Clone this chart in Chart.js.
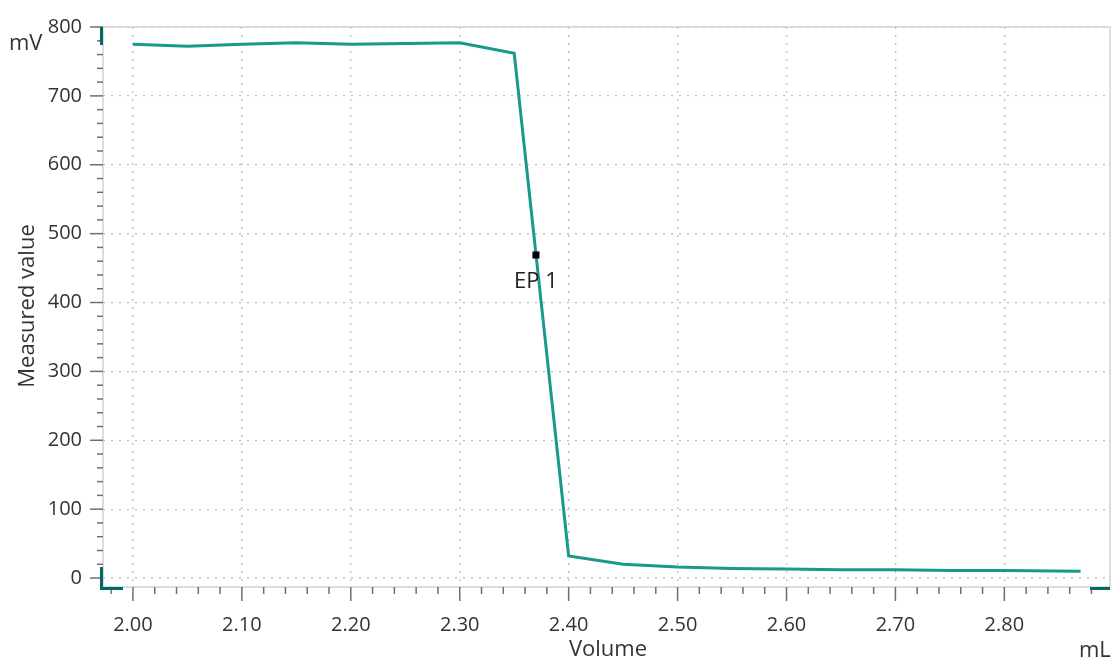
<!DOCTYPE html>
<html>
<head>
<meta charset="utf-8">
<script src="https://cdn.jsdelivr.net/npm/chart.js@4/dist/chart.umd.min.js"></script>
<style>
  html, body { margin: 0; padding: 0; background: #fff; }
  #wrap { width: 1115px; height: 661px; }
</style>
</head>
<body>
<div id="wrap"><canvas id="titration"></canvas></div>
<script>
// Data
const volumes = [2.0, 2.05, 2.1, 2.15, 2.2, 2.25, 2.3, 2.35, 2.4, 2.45, 2.5, 2.55, 2.6, 2.65, 2.7, 2.75, 2.8, 2.87];
const potentials = [775, 772, 775, 777, 775, 776, 777, 762, 32, 20, 16, 14, 13, 12, 12, 11, 11, 10];
const epVolume = [2.37];
const epValue = [469];
const epLabels = ["EP 1"];

const lineColor = "#19998c";
const handleColor = "#006b64";
const FONT = "'Open Sans', 'Noto Sans', sans-serif";

Chart.defaults.font.family = FONT;
Chart.defaults.font.size = 20;
Chart.defaults.color = "#333";

const near = (v, step) => Math.abs(v / step - Math.round(v / step)) < 1e-6;

// tick values every 0.02 mL and 20 mV
const stepTicks = (from, to, step) => {
  const out = [];
  const n = Math.round((to - from) / step);
  for (let i = 0; i <= n; i++) out.push({ value: +(from + i * step).toFixed(4) });
  return out;
};

// draws frame, tick marks, unit labels, EP label and scroll handles
const decor = {
  id: "decor",
  beforeDatasetsDraw(chart) {
    const { ctx, chartArea: a, scales } = chart;
    ctx.save();
    ctx.strokeStyle = "#d2d2d2";
    ctx.lineWidth = 1.5;
    ctx.strokeRect(a.left, a.top, a.right - a.left, a.bottom - a.top);

    ctx.strokeStyle = "#6f6f6f";
    ctx.lineWidth = 1.5;
    scales.x.ticks.forEach((t) => {
      const px = scales.x.getPixelForValue(t.value);
      const len = near(t.value, 0.1) ? 14 : 7;
      ctx.beginPath();
      ctx.moveTo(px, a.bottom);
      ctx.lineTo(px, a.bottom + len);
      ctx.stroke();
    });
    scales.y.ticks.forEach((t) => {
      const py = scales.y.getPixelForValue(t.value);
      const len = near(t.value, 100) ? 13 : 6;
      ctx.beginPath();
      ctx.moveTo(a.left - len, py);
      ctx.lineTo(a.left, py);
      ctx.stroke();
    });
    ctx.restore();
  },
  afterDatasetsDraw(chart) {
    const { ctx, chartArea: a, scales } = chart;
    ctx.save();
    ctx.fillStyle = "#222";
    ctx.font = "22px " + FONT;
    ctx.textAlign = "center";
    ctx.textBaseline = "middle";
    epVolume.forEach((v, i) => {
      ctx.fillText(epLabels[i], scales.x.getPixelForValue(v), scales.y.getPixelForValue(epValue[i]) + 27);
    });

    ctx.fillStyle = "#333";
    ctx.textAlign = "left";
    ctx.fillText("mV", 9, 44);
    ctx.fillText("mL", 1079, 651);
    ctx.textAlign = "center";
    ctx.fillText("Volume", 608, 650);
    ctx.translate(28, 306);
    ctx.rotate(-Math.PI / 2);
    ctx.fillText("Measured value", 0, 0);
    ctx.restore();

    ctx.save();
    ctx.fillStyle = handleColor;
    ctx.fillRect(a.left - 3, a.top, 3, 18);
    ctx.fillRect(a.left - 3, a.bottom - 20, 3, 22);
    ctx.fillRect(a.left - 3, a.bottom, 23, 3);
    ctx.fillRect(a.right - 20, a.bottom, 20, 3);
    ctx.restore();
  },
};

new Chart(document.getElementById("titration"), {
  type: "line",
  data: {
    datasets: [
      {
        label: "Measured value",
        data: volumes.map((v, i) => ({ x: v, y: potentials[i] })),
        borderColor: lineColor,
        borderWidth: 3,
        pointRadius: 0,
        tension: 0,
        order: 2,
      },
      {
        label: "EP",
        type: "scatter",
        data: epVolume.map((v, i) => ({ x: v, y: epValue[i] })),
        pointStyle: "rect",
        pointRadius: 5,
        borderWidth: 0,
        backgroundColor: "#000",
        borderColor: "#000",
        order: 1,
      },
    ],
  },
  options: {
    responsive: true,
    maintainAspectRatio: false,
    animation: false,
    events: [],
    layout: { padding: { top: 27, right: 2, left: 0, bottom: 0 } },
    plugins: { legend: { display: false }, tooltip: { enabled: false } },
    scales: {
      x: {
        type: "linear",
        min: 1.9725,
        max: 2.897,
        afterFit: (s) => { s.height = 74; },
        afterBuildTicks: (s) => { s.ticks = stepTicks(1.98, 2.88, 0.02); },
        ticks: {
          autoSkip: false,
          maxRotation: 0,
          padding: 12,
          color: "#333",
          font: { size: 20 },
          callback: (v) => (near(v, 0.1) ? Number(v).toFixed(2) : ""),
        },
        grid: {
          tickLength: 14,
          tickColor: "transparent",
          lineWidth: 1.3,
          color: (c) => (c.tick && near(c.tick.value, 0.1) ? "#bdbdbd" : "transparent"),
        },
        border: { display: false, dash: [2, 6] },
      },
      y: {
        min: -13,
        max: 800,
        afterFit: (s) => { s.width = 103; },
        afterBuildTicks: (s) => { s.ticks = stepTicks(0, 800, 20); },
        ticks: {
          autoSkip: false,
          padding: 7,
          color: "#333",
          font: { size: 20 },
          callback: (v) => (near(v, 100) ? String(v) : ""),
        },
        grid: {
          tickLength: 14,
          tickColor: "transparent",
          lineWidth: 1.3,
          color: (c) => (c.tick && near(c.tick.value, 100) ? "#bdbdbd" : "transparent"),
        },
        border: { display: false, dash: [2, 6] },
      },
    },
  },
  plugins: [decor],
});
</script>
</body>
</html>
